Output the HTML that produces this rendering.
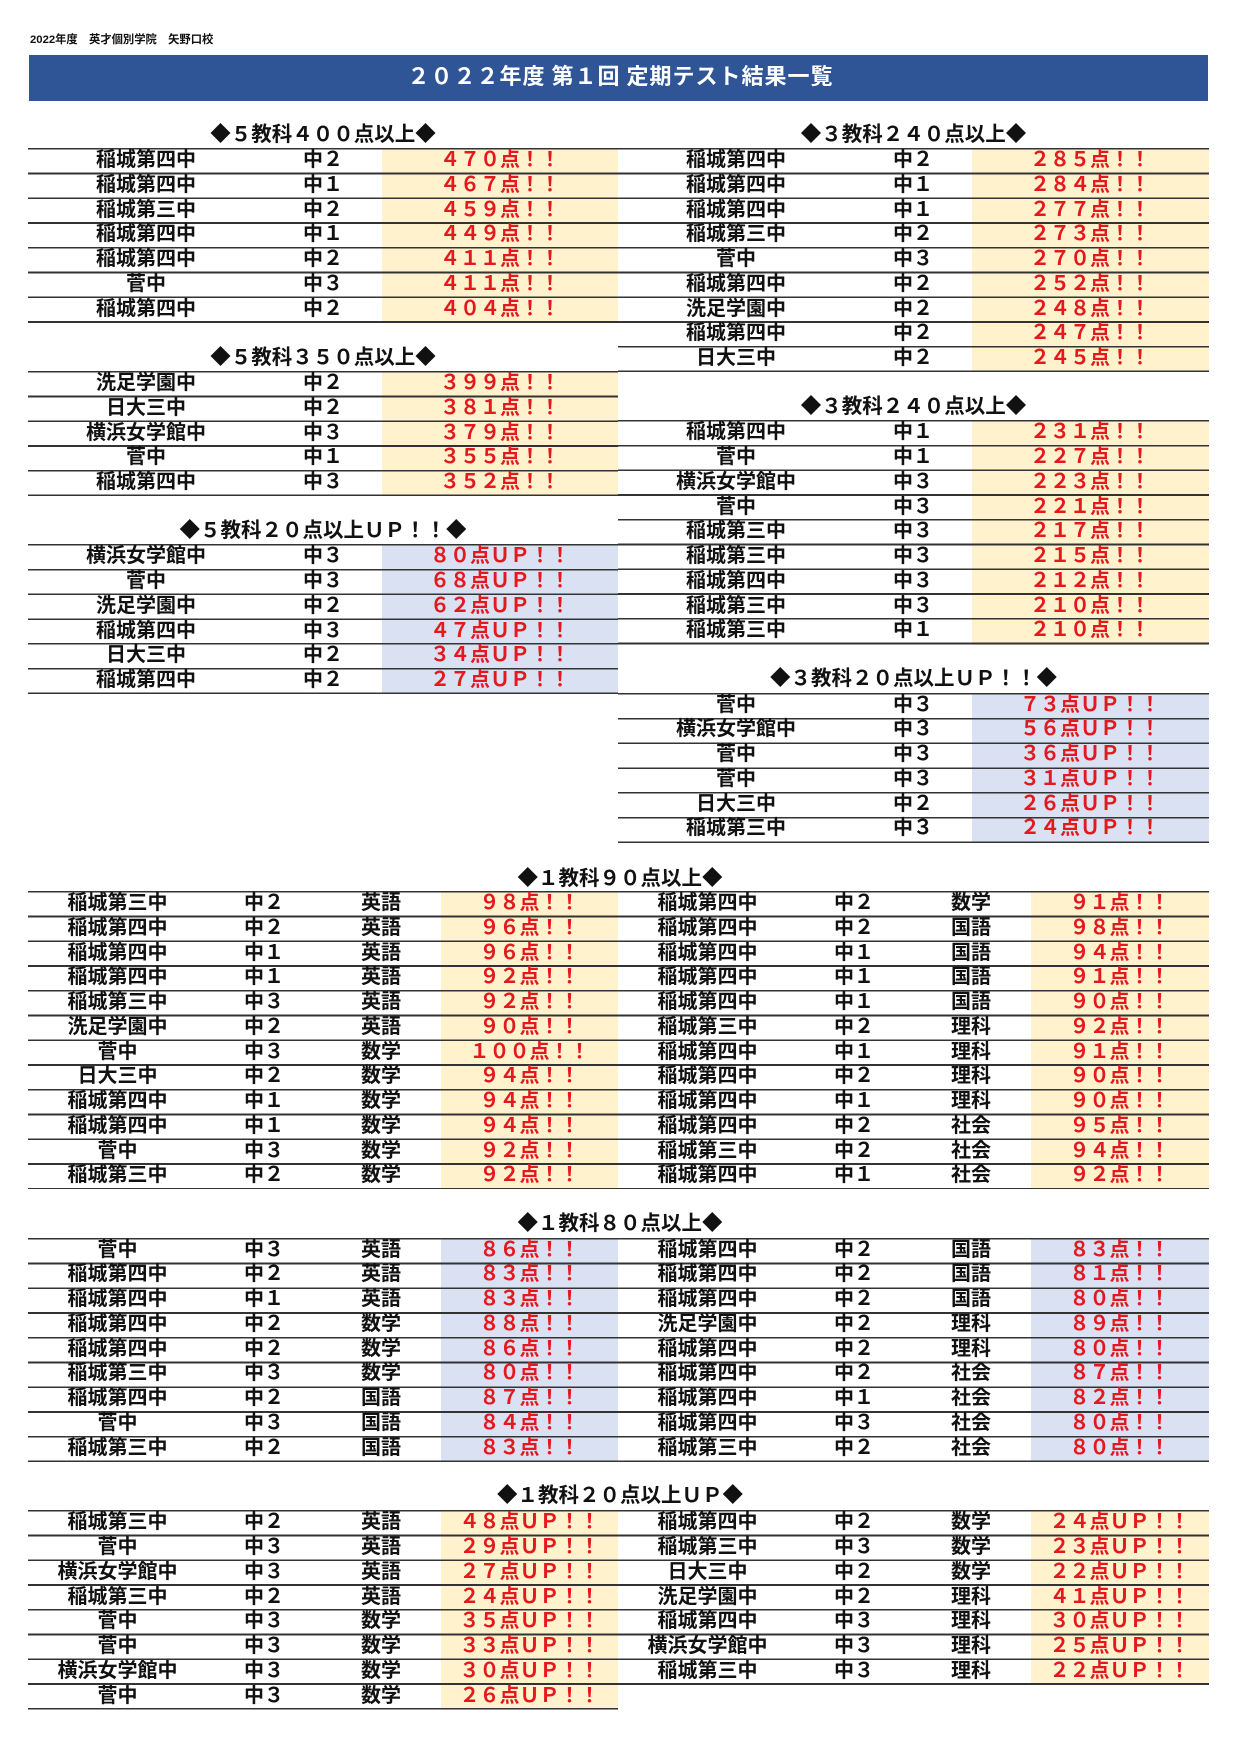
<!DOCTYPE html>
<html lang="ja">
<head>
<meta charset="utf-8">
<style>
  html,body{margin:0;padding:0;background:#fff;}
  body{width:1240px;height:1754px;position:relative;overflow:hidden;
       font-family:"Liberation Sans","Noto Sans CJK JP",sans-serif;color:#111;}
  .top{position:absolute;left:30px;top:33px;font-size:11.3px;line-height:14px;color:#111;white-space:nowrap;font-weight:700;
       font-family:"Liberation Sans","Noto Sans CJK JP",sans-serif;}
  .bar{position:absolute;left:29px;top:55px;width:1179px;height:46px;background:#2F5597;}
  .bar div{text-align:center;color:#fff;font-weight:700;font-size:22px;line-height:46px;letter-spacing:1px;
           position:relative;top:-3px;left:2px;font-family:"Noto Sans CJK JP",sans-serif;white-space:nowrap;}
  .h{position:absolute;width:600px;text-align:center;font-size:20.5px;line-height:30px;font-weight:700;
     font-family:"Noto Sans CJK JP",sans-serif;white-space:nowrap;color:#111;}
  .t{position:absolute;padding-top:0.75px;box-sizing:border-box;}
  .r{height:24.75px;display:flex;align-items:center;}
  .r span{display:block;text-align:center;white-space:nowrap;position:relative;top:-3px;line-height:24px;
          font-family:"Noto Sans CJK JP",sans-serif;font-size:20px;}
  .r .a,.r .b,.r .d{font-weight:700;color:#111;}
  .r .c{color:#E3191E;font-weight:700;}
  .t3 .a{width:236px}.t3 .b{width:118px}.t3 .c{width:236px}
  .t4 .a{width:179px}.t4 .b{width:114px}.t4 .d{width:120px}.t4 .c{width:177px}
  .L{left:28px;width:590px;}
  .R{left:618px;width:591px;}
  .t3.y{background:repeating-linear-gradient(180deg,#333 0,#333 1.5px,transparent 1.5px,transparent 24.75px),linear-gradient(90deg,transparent 354px,#FFF2CC 354px);}
  .t3.bl{background:repeating-linear-gradient(180deg,#333 0,#333 1.5px,transparent 1.5px,transparent 24.75px),linear-gradient(90deg,transparent 354px,#D9E1F2 354px);}
  .t4.y{background:repeating-linear-gradient(180deg,#333 0,#333 1.5px,transparent 1.5px,transparent 24.75px),linear-gradient(90deg,transparent 413px,#FFF2CC 413px);}
  .t4.bl{background:repeating-linear-gradient(180deg,#333 0,#333 1.5px,transparent 1.5px,transparent 24.75px),linear-gradient(90deg,transparent 413px,#D9E1F2 413px);}
</style>
</head>
<body>

<div class="top">2022年度　英才個別学院　矢野口校</div>
<div class="bar"><div>２０２２年度 第１回 定期テスト結果一覧</div></div>

<div class="h" style="left:23px;top:117px;">◆５教科４００点以上◆</div>
<div class="h" style="left:23px;top:339.7px;">◆５教科３５０点以上◆</div>
<div class="h" style="left:23px;top:513px;">◆５教科２０点以上ＵＰ！！◆</div>

<div class="h" style="left:613.5px;top:117px;">◆３教科２４０点以上◆</div>
<div class="h" style="left:613.5px;top:389px;">◆３教科２４０点以上◆</div>
<div class="h" style="left:613.5px;top:661.3px;">◆３教科２０点以上ＵＰ！！◆</div>

<div class="h" style="left:320px;top:861.3px;">◆１教科９０点以上◆</div>
<div class="h" style="left:320px;top:1206px;">◆１教科８０点以上◆</div>
<div class="h" style="left:320px;top:1478px;">◆１教科２０点以上ＵＰ◆</div>

<div class="t t3 y L" style="top:147.95px;height:174.75px;">
  <div class="r"><span class="a">稲城第四中</span><span class="b">中２</span><span class="c">４７０点！！</span></div>
  <div class="r"><span class="a">稲城第四中</span><span class="b">中１</span><span class="c">４６７点！！</span></div>
  <div class="r"><span class="a">稲城第三中</span><span class="b">中２</span><span class="c">４５９点！！</span></div>
  <div class="r"><span class="a">稲城第四中</span><span class="b">中１</span><span class="c">４４９点！！</span></div>
  <div class="r"><span class="a">稲城第四中</span><span class="b">中２</span><span class="c">４１１点！！</span></div>
  <div class="r"><span class="a">菅中</span><span class="b">中３</span><span class="c">４１１点！！</span></div>
  <div class="r"><span class="a">稲城第四中</span><span class="b">中２</span><span class="c">４０４点！！</span></div>
</div>

<div class="t t3 y L" style="top:370.95px;height:125.25px;">
  <div class="r"><span class="a">洗足学園中</span><span class="b">中２</span><span class="c">３９９点！！</span></div>
  <div class="r"><span class="a">日大三中</span><span class="b">中２</span><span class="c">３８１点！！</span></div>
  <div class="r"><span class="a">横浜女学館中</span><span class="b">中３</span><span class="c">３７９点！！</span></div>
  <div class="r"><span class="a">菅中</span><span class="b">中１</span><span class="c">３５５点！！</span></div>
  <div class="r"><span class="a">稲城第四中</span><span class="b">中３</span><span class="c">３５２点！！</span></div>
</div>

<div class="t t3 bl L" style="top:544.25px;height:150px;">
  <div class="r"><span class="a">横浜女学館中</span><span class="b">中３</span><span class="c">８０点ＵＰ！！</span></div>
  <div class="r"><span class="a">菅中</span><span class="b">中３</span><span class="c">６８点ＵＰ！！</span></div>
  <div class="r"><span class="a">洗足学園中</span><span class="b">中２</span><span class="c">６２点ＵＰ！！</span></div>
  <div class="r"><span class="a">稲城第四中</span><span class="b">中３</span><span class="c">４７点ＵＰ！！</span></div>
  <div class="r"><span class="a">日大三中</span><span class="b">中２</span><span class="c">３４点ＵＰ！！</span></div>
  <div class="r"><span class="a">稲城第四中</span><span class="b">中２</span><span class="c">２７点ＵＰ！！</span></div>
</div>

<div class="t t3 y R" style="top:147.95px;height:224.25px;">
  <div class="r"><span class="a">稲城第四中</span><span class="b">中２</span><span class="c">２８５点！！</span></div>
  <div class="r"><span class="a">稲城第四中</span><span class="b">中１</span><span class="c">２８４点！！</span></div>
  <div class="r"><span class="a">稲城第四中</span><span class="b">中１</span><span class="c">２７７点！！</span></div>
  <div class="r"><span class="a">稲城第三中</span><span class="b">中２</span><span class="c">２７３点！！</span></div>
  <div class="r"><span class="a">菅中</span><span class="b">中３</span><span class="c">２７０点！！</span></div>
  <div class="r"><span class="a">稲城第四中</span><span class="b">中２</span><span class="c">２５２点！！</span></div>
  <div class="r"><span class="a">洗足学園中</span><span class="b">中２</span><span class="c">２４８点！！</span></div>
  <div class="r"><span class="a">稲城第四中</span><span class="b">中２</span><span class="c">２４７点！！</span></div>
  <div class="r"><span class="a">日大三中</span><span class="b">中２</span><span class="c">２４５点！！</span></div>
</div>

<div class="t t3 y R" style="top:420.25px;height:224.25px;">
  <div class="r"><span class="a">稲城第四中</span><span class="b">中１</span><span class="c">２３１点！！</span></div>
  <div class="r"><span class="a">菅中</span><span class="b">中１</span><span class="c">２２７点！！</span></div>
  <div class="r"><span class="a">横浜女学館中</span><span class="b">中３</span><span class="c">２２３点！！</span></div>
  <div class="r"><span class="a">菅中</span><span class="b">中３</span><span class="c">２２１点！！</span></div>
  <div class="r"><span class="a">稲城第三中</span><span class="b">中３</span><span class="c">２１７点！！</span></div>
  <div class="r"><span class="a">稲城第三中</span><span class="b">中３</span><span class="c">２１５点！！</span></div>
  <div class="r"><span class="a">稲城第四中</span><span class="b">中３</span><span class="c">２１２点！！</span></div>
  <div class="r"><span class="a">稲城第三中</span><span class="b">中３</span><span class="c">２１０点！！</span></div>
  <div class="r"><span class="a">稲城第三中</span><span class="b">中１</span><span class="c">２１０点！！</span></div>
</div>

<div class="t t3 bl R" style="top:692.55px;height:150px;">
  <div class="r"><span class="a">菅中</span><span class="b">中３</span><span class="c">７３点ＵＰ！！</span></div>
  <div class="r"><span class="a">横浜女学館中</span><span class="b">中３</span><span class="c">５６点ＵＰ！！</span></div>
  <div class="r"><span class="a">菅中</span><span class="b">中３</span><span class="c">３６点ＵＰ！！</span></div>
  <div class="r"><span class="a">菅中</span><span class="b">中３</span><span class="c">３１点ＵＰ！！</span></div>
  <div class="r"><span class="a">日大三中</span><span class="b">中２</span><span class="c">２６点ＵＰ！！</span></div>
  <div class="r"><span class="a">稲城第三中</span><span class="b">中３</span><span class="c">２４点ＵＰ！！</span></div>
</div>

<div class="t t4 y L" style="top:890.95px;height:298.5px;">
  <div class="r"><span class="a">稲城第三中</span><span class="b">中２</span><span class="d">英語</span><span class="c">９８点！！</span></div>
  <div class="r"><span class="a">稲城第四中</span><span class="b">中２</span><span class="d">英語</span><span class="c">９６点！！</span></div>
  <div class="r"><span class="a">稲城第四中</span><span class="b">中１</span><span class="d">英語</span><span class="c">９６点！！</span></div>
  <div class="r"><span class="a">稲城第四中</span><span class="b">中１</span><span class="d">英語</span><span class="c">９２点！！</span></div>
  <div class="r"><span class="a">稲城第三中</span><span class="b">中３</span><span class="d">英語</span><span class="c">９２点！！</span></div>
  <div class="r"><span class="a">洗足学園中</span><span class="b">中２</span><span class="d">英語</span><span class="c">９０点！！</span></div>
  <div class="r"><span class="a">菅中</span><span class="b">中３</span><span class="d">数学</span><span class="c">１００点！！</span></div>
  <div class="r"><span class="a">日大三中</span><span class="b">中２</span><span class="d">数学</span><span class="c">９４点！！</span></div>
  <div class="r"><span class="a">稲城第四中</span><span class="b">中１</span><span class="d">数学</span><span class="c">９４点！！</span></div>
  <div class="r"><span class="a">稲城第四中</span><span class="b">中１</span><span class="d">数学</span><span class="c">９４点！！</span></div>
  <div class="r"><span class="a">菅中</span><span class="b">中３</span><span class="d">数学</span><span class="c">９２点！！</span></div>
  <div class="r"><span class="a">稲城第三中</span><span class="b">中２</span><span class="d">数学</span><span class="c">９２点！！</span></div>
</div>

<div class="t t4 y R" style="top:890.95px;height:298.5px;">
  <div class="r"><span class="a">稲城第四中</span><span class="b">中２</span><span class="d">数学</span><span class="c">９１点！！</span></div>
  <div class="r"><span class="a">稲城第四中</span><span class="b">中２</span><span class="d">国語</span><span class="c">９８点！！</span></div>
  <div class="r"><span class="a">稲城第四中</span><span class="b">中１</span><span class="d">国語</span><span class="c">９４点！！</span></div>
  <div class="r"><span class="a">稲城第四中</span><span class="b">中１</span><span class="d">国語</span><span class="c">９１点！！</span></div>
  <div class="r"><span class="a">稲城第四中</span><span class="b">中１</span><span class="d">国語</span><span class="c">９０点！！</span></div>
  <div class="r"><span class="a">稲城第三中</span><span class="b">中２</span><span class="d">理科</span><span class="c">９２点！！</span></div>
  <div class="r"><span class="a">稲城第四中</span><span class="b">中１</span><span class="d">理科</span><span class="c">９１点！！</span></div>
  <div class="r"><span class="a">稲城第四中</span><span class="b">中２</span><span class="d">理科</span><span class="c">９０点！！</span></div>
  <div class="r"><span class="a">稲城第四中</span><span class="b">中１</span><span class="d">理科</span><span class="c">９０点！！</span></div>
  <div class="r"><span class="a">稲城第四中</span><span class="b">中２</span><span class="d">社会</span><span class="c">９５点！！</span></div>
  <div class="r"><span class="a">稲城第三中</span><span class="b">中２</span><span class="d">社会</span><span class="c">９４点！！</span></div>
  <div class="r"><span class="a">稲城第四中</span><span class="b">中１</span><span class="d">社会</span><span class="c">９２点！！</span></div>
</div>

<div class="t t4 bl L" style="top:1237.55px;height:224.25px;">
  <div class="r"><span class="a">菅中</span><span class="b">中３</span><span class="d">英語</span><span class="c">８６点！！</span></div>
  <div class="r"><span class="a">稲城第四中</span><span class="b">中２</span><span class="d">英語</span><span class="c">８３点！！</span></div>
  <div class="r"><span class="a">稲城第四中</span><span class="b">中１</span><span class="d">英語</span><span class="c">８３点！！</span></div>
  <div class="r"><span class="a">稲城第四中</span><span class="b">中２</span><span class="d">数学</span><span class="c">８８点！！</span></div>
  <div class="r"><span class="a">稲城第四中</span><span class="b">中２</span><span class="d">数学</span><span class="c">８６点！！</span></div>
  <div class="r"><span class="a">稲城第三中</span><span class="b">中３</span><span class="d">数学</span><span class="c">８０点！！</span></div>
  <div class="r"><span class="a">稲城第四中</span><span class="b">中２</span><span class="d">国語</span><span class="c">８７点！！</span></div>
  <div class="r"><span class="a">菅中</span><span class="b">中３</span><span class="d">国語</span><span class="c">８４点！！</span></div>
  <div class="r"><span class="a">稲城第三中</span><span class="b">中２</span><span class="d">国語</span><span class="c">８３点！！</span></div>
</div>

<div class="t t4 bl R" style="top:1237.55px;height:224.25px;">
  <div class="r"><span class="a">稲城第四中</span><span class="b">中２</span><span class="d">国語</span><span class="c">８３点！！</span></div>
  <div class="r"><span class="a">稲城第四中</span><span class="b">中２</span><span class="d">国語</span><span class="c">８１点！！</span></div>
  <div class="r"><span class="a">稲城第四中</span><span class="b">中２</span><span class="d">国語</span><span class="c">８０点！！</span></div>
  <div class="r"><span class="a">洗足学園中</span><span class="b">中２</span><span class="d">理科</span><span class="c">８９点！！</span></div>
  <div class="r"><span class="a">稲城第四中</span><span class="b">中２</span><span class="d">理科</span><span class="c">８０点！！</span></div>
  <div class="r"><span class="a">稲城第四中</span><span class="b">中２</span><span class="d">社会</span><span class="c">８７点！！</span></div>
  <div class="r"><span class="a">稲城第四中</span><span class="b">中１</span><span class="d">社会</span><span class="c">８２点！！</span></div>
  <div class="r"><span class="a">稲城第四中</span><span class="b">中３</span><span class="d">社会</span><span class="c">８０点！！</span></div>
  <div class="r"><span class="a">稲城第三中</span><span class="b">中２</span><span class="d">社会</span><span class="c">８０点！！</span></div>
</div>

<div class="t t4 y L" style="top:1510.25px;height:199.5px;">
  <div class="r"><span class="a">稲城第三中</span><span class="b">中２</span><span class="d">英語</span><span class="c">４８点ＵＰ！！</span></div>
  <div class="r"><span class="a">菅中</span><span class="b">中３</span><span class="d">英語</span><span class="c">２９点ＵＰ！！</span></div>
  <div class="r"><span class="a">横浜女学館中</span><span class="b">中３</span><span class="d">英語</span><span class="c">２７点ＵＰ！！</span></div>
  <div class="r"><span class="a">稲城第三中</span><span class="b">中２</span><span class="d">英語</span><span class="c">２４点ＵＰ！！</span></div>
  <div class="r"><span class="a">菅中</span><span class="b">中３</span><span class="d">数学</span><span class="c">３５点ＵＰ！！</span></div>
  <div class="r"><span class="a">菅中</span><span class="b">中３</span><span class="d">数学</span><span class="c">３３点ＵＰ！！</span></div>
  <div class="r"><span class="a">横浜女学館中</span><span class="b">中３</span><span class="d">数学</span><span class="c">３０点ＵＰ！！</span></div>
  <div class="r"><span class="a">菅中</span><span class="b">中３</span><span class="d">数学</span><span class="c">２６点ＵＰ！！</span></div>
</div>

<div class="t t4 y R" style="top:1510.25px;height:174.75px;">
  <div class="r"><span class="a">稲城第四中</span><span class="b">中２</span><span class="d">数学</span><span class="c">２４点ＵＰ！！</span></div>
  <div class="r"><span class="a">稲城第三中</span><span class="b">中３</span><span class="d">数学</span><span class="c">２３点ＵＰ！！</span></div>
  <div class="r"><span class="a">日大三中</span><span class="b">中２</span><span class="d">数学</span><span class="c">２２点ＵＰ！！</span></div>
  <div class="r"><span class="a">洗足学園中</span><span class="b">中２</span><span class="d">理科</span><span class="c">４１点ＵＰ！！</span></div>
  <div class="r"><span class="a">稲城第四中</span><span class="b">中３</span><span class="d">理科</span><span class="c">３０点ＵＰ！！</span></div>
  <div class="r"><span class="a">横浜女学館中</span><span class="b">中３</span><span class="d">理科</span><span class="c">２５点ＵＰ！！</span></div>
  <div class="r"><span class="a">稲城第三中</span><span class="b">中３</span><span class="d">理科</span><span class="c">２２点ＵＰ！！</span></div>
</div>

</body>
</html>
